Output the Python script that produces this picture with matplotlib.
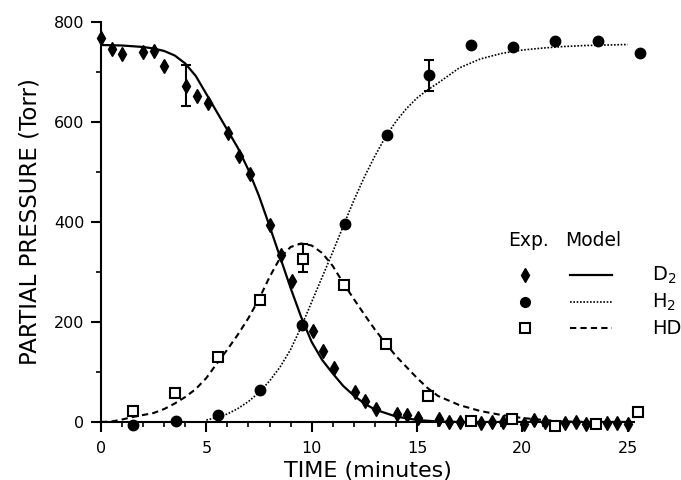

"""
Partial pressures of D2, H2 and HD against time: experiment and model.
"""

import matplotlib.pyplot as plt
from matplotlib.ticker import MultipleLocator


# ------------------------------------------------------------------------
# experimental points (Torr vs minutes)

d2_time = [0.0, 0.5, 1.0, 2.0, 2.5, 3.0, 4.05, 4.55, 5.07, 6.05, 6.55, 7.06,
           8.04, 8.56, 9.05, 10.06, 10.54, 11.04, 12.04, 12.51, 13.03, 14.04,
           14.53, 15.04, 16.03, 16.54, 17.02, 18.05, 18.56, 19.07, 20.06,
           20.57, 21.09, 22.04, 22.54, 23.01, 24.04, 24.5, 25.0]
d2_exp = [768, 747, 737, 741, 742, 713, 673, 652, 639, 579, 532, 496,
          394, 334, 283, 182, 142, 109, 61, 42, 26, 16,
          14, 9, 6, 1, 1, -1, 1, 1, -3,
          4, 1, -1, 1, -3, -1, -1, -3]

h2_time = [1.53, 3.55, 5.56, 7.53, 9.55, 11.56, 13.57, 15.59, 17.56, 19.58,
           21.56, 23.57, 25.57]
h2_exp = [-6, 3, 14, 64, 194, 397, 574, 694, 754, 751, 763, 763, 739]

hd_time = [1.53, 3.5, 5.56, 7.53, 9.59, 11.52, 13.55, 15.5, 17.56, 19.5,
           21.56, 23.49, 25.5]
hd_exp = [23, 59, 131, 245, 327, 274, 157, 53, 2, 7, -8, -3, 21]

# one error bar per species
err_time = [4.05, 9.59, 15.59]
err_val = [673, 329, 694]
err_size = [41, 28, 31]

# model curves
d2_model_t = [0, 1, 2, 2.5, 3, 3.5, 4, 4.5, 5, 5.5, 6, 6.5, 7, 7.5, 8, 8.5, 9,
              9.5, 10, 10.5, 11, 11.5, 12, 12.5, 13, 14, 15, 16, 17, 18, 20,
              22, 25]
d2_model = [754, 753, 750, 747, 742, 733, 717, 692, 656, 620, 584, 548, 504,
            452, 392, 330, 268, 210, 160, 124, 97, 72, 53, 37, 25, 11, 4, 1,
            0, 0, 0, 0, 0]

h2_model_t = [5, 5.5, 6, 6.5, 7, 7.5, 8, 8.5, 9, 9.5, 10, 10.5, 11, 11.5, 12,
              12.5, 13, 13.5, 14, 14.5, 15, 15.5, 16, 17, 18, 19, 20, 21, 22,
              23, 24, 25]
h2_model = [4, 9, 16, 27, 41, 59, 82, 110, 145, 190, 240, 290, 340, 392, 443,
            490, 532, 570, 601, 627, 648, 664, 678, 708, 726, 737, 744, 748,
            751, 753, 754, 755]

hd_model_t = [0, 0.5, 1, 1.5, 2, 2.5, 3, 3.5, 4, 4.5, 5, 5.5, 6, 6.5, 7, 7.5,
              8, 8.5, 9, 9.5, 10, 10.5, 11, 11.5, 12, 12.5, 13, 13.5, 14,
              14.5, 15, 15.5, 16, 17, 18, 19, 20, 21, 22, 23, 24, 25]
hd_model = [0, 1, 5, 10, 14, 18, 26, 37, 50, 66, 88, 117, 145, 175, 208, 246,
            290, 328, 350, 357, 353, 338, 312, 278, 246, 215, 185, 158, 132,
            110, 88, 68, 52, 34, 22, 14, 8, 4, 1, 0, 0, 0]

legend_species = ['D$_2$', 'H$_2$', 'HD']


# ------------------------------------------------------------------------

plt.rcParams['font.family'] = 'DejaVu Sans'
plt.rcParams['mathtext.fontset'] = 'dejavusans'

W, H = 681, 480
fig = plt.figure(figsize=(W / 100, H / 100), dpi=100)
ax = fig.add_axes([101 / W, 58 / H, 533 / W, 400 / H])

ax.plot(d2_model_t, d2_model, color='black', lw=1.6, ls='-')
ax.plot(h2_model_t, h2_model, color='black', lw=1.2, ls=(0, (1, 1)))
ax.plot(hd_model_t, hd_model, color='black', lw=1.5, ls=(0, (3, 2)))

ax.errorbar(err_time, err_val, yerr=err_size, fmt='none', ecolor='black',
            elinewidth=1.5, capsize=3.5, capthick=1.5, clip_on=False)

ax.plot(d2_time, d2_exp, 'd', color='black', ms=7.5, clip_on=False, zorder=4)
ax.plot(h2_time, h2_exp, 'o', color='black', ms=7.5, clip_on=False, zorder=4)
ax.plot(hd_time, hd_exp, 's', mfc='white', mec='black', mew=1.5, ms=7.5,
        clip_on=False, zorder=4)

ax.set_xlim(0, 25.3)
ax.set_ylim(0, 800)
ax.xaxis.set_major_locator(MultipleLocator(5))
ax.xaxis.set_minor_locator(MultipleLocator(1))
ax.yaxis.set_major_locator(MultipleLocator(200))
ax.yaxis.set_minor_locator(MultipleLocator(100))

ax.spines['top'].set_visible(False)
ax.spines['right'].set_visible(False)
ax.spines['left'].set_linewidth(1.5)
ax.spines['bottom'].set_linewidth(1.5)
ax.tick_params(which='major', direction='out', length=7, width=1.5,
               labelsize=11.5, pad=5)
ax.tick_params(axis='x', which='major', pad=7)
ax.tick_params(which='minor', direction='out', length=3.5, width=1.2)

ax.set_xlabel('TIME (minutes)', fontsize=16, labelpad=3)
ax.set_ylabel('PARTIAL PRESSURE (Torr)', fontsize=16.5, labelpad=9)

# hand-made legend in figure pixels
def fx(px):
    return px / W


def fy(py):
    return 1 - py / H


fig.text(fx(529), fy(241), 'Exp.', fontsize=13.5, ha='center', va='center')
fig.text(fx(593), fy(241), 'Model', fontsize=13.5, ha='center', va='center')

rows = [275, 302, 328]
marker_kw = [dict(marker='d', color='black', ms=7),
             dict(marker='o', color='black', ms=7),
             dict(marker='s', mfc='white', mec='black', mew=1.5, ms=7)]
line_kw = [dict(lw=1.6, ls='-'),
           dict(lw=1.2, ls=(0, (1, 1))),
           dict(lw=1.5, ls=(0, (3, 2)))]
for row, mk, lk, name in zip(rows, marker_kw, line_kw, legend_species):
    ax.plot([fx(525)], [fy(row)], transform=fig.transFigure, clip_on=False,
            ls='none', **mk)
    ax.plot([fx(570), fx(612)], [fy(row), fy(row)], color='black',
            transform=fig.transFigure, clip_on=False, **lk)
    fig.text(fx(652), fy(row), name, fontsize=14, ha='left', va='center')

fig.savefig('out.png', dpi=100)
